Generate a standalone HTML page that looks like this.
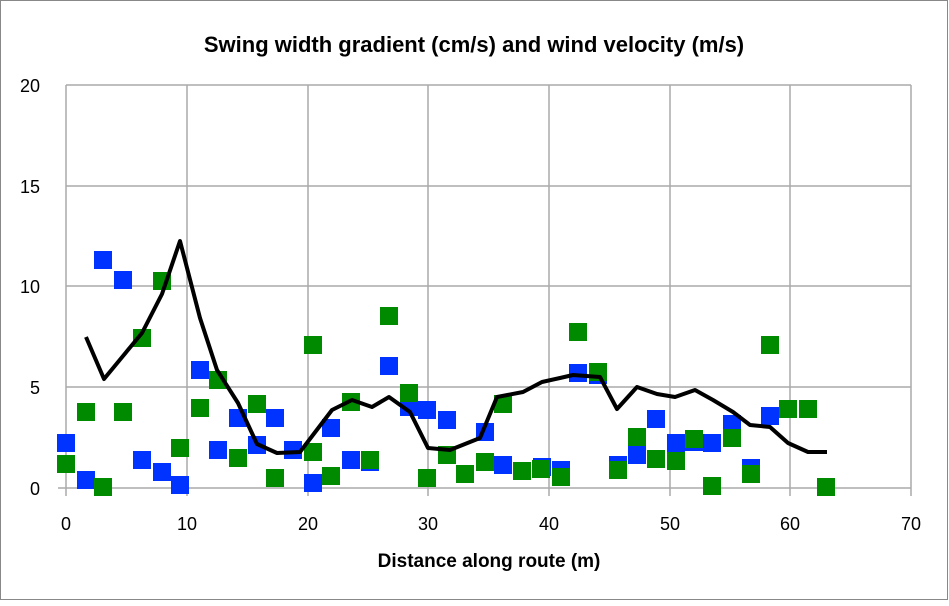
<!DOCTYPE html><html><head><style>body{margin:0;background:#fff}</style></head><body>
<svg width="949" height="601" xmlns="http://www.w3.org/2000/svg" font-family="Liberation Sans, sans-serif">
<rect x="0.5" y="0.5" width="947" height="599" fill="#fff" stroke="#888"/>
<text x="474" y="52" text-anchor="middle" font-size="22" font-weight="bold">Swing width gradient (cm/s) and wind velocity (m/s)</text>
<g stroke="#aaa" stroke-width="1.5">
<line x1="66" y1="85" x2="911" y2="85"/><line x1="66" y1="186" x2="911" y2="186"/><line x1="66" y1="286" x2="911" y2="286"/><line x1="66" y1="387" x2="911" y2="387"/><line x1="58" y1="488" x2="911" y2="488"/>
<line x1="66" y1="85" x2="66" y2="496"/><line x1="187" y1="85" x2="187" y2="496"/><line x1="308" y1="85" x2="308" y2="496"/><line x1="428" y1="85" x2="428" y2="496"/><line x1="549" y1="85" x2="549" y2="496"/><line x1="670" y1="85" x2="670" y2="496"/><line x1="790" y1="85" x2="790" y2="496"/><line x1="911" y1="85" x2="911" y2="496"/>
</g>
<g font-size="18" text-anchor="end"><text x="40" y="92">20</text><text x="40" y="193">15</text><text x="40" y="293">10</text><text x="40" y="394">5</text><text x="40" y="495">0</text></g>
<g font-size="18" text-anchor="middle"><text x="66" y="530">0</text><text x="187" y="530">10</text><text x="308" y="530">20</text><text x="428" y="530">30</text><text x="549" y="530">40</text><text x="670" y="530">50</text><text x="790" y="530">60</text><text x="911" y="530">70</text></g>
<text x="489" y="567" text-anchor="middle" font-size="19" font-weight="bold">Distance along route (m)</text>
<g fill="#0033ff">
<rect x="57" y="434" width="18" height="18"/><rect x="77" y="471" width="18" height="18"/><rect x="94" y="251" width="18" height="18"/><rect x="114" y="271" width="18" height="18"/><rect x="133" y="451" width="18" height="18"/><rect x="153" y="463" width="18" height="18"/><rect x="171" y="476" width="18" height="18"/><rect x="191" y="361" width="18" height="18"/><rect x="209" y="441" width="18" height="18"/><rect x="229" y="409" width="18" height="18"/><rect x="248" y="436" width="18" height="18"/><rect x="266" y="409" width="18" height="18"/><rect x="284" y="441" width="18" height="18"/><rect x="304" y="474" width="18" height="18"/><rect x="322" y="419" width="18" height="18"/><rect x="342" y="451" width="18" height="18"/><rect x="361" y="453" width="18" height="18"/><rect x="380" y="357" width="18" height="18"/><rect x="400" y="398" width="18" height="18"/><rect x="418" y="401" width="18" height="18"/><rect x="438" y="411" width="18" height="18"/><rect x="476" y="423" width="18" height="18"/><rect x="494" y="456" width="18" height="18"/><rect x="533" y="458" width="18" height="18"/><rect x="552" y="461" width="18" height="18"/><rect x="569" y="364" width="18" height="18"/><rect x="589" y="366" width="18" height="18"/><rect x="609" y="456" width="18" height="18"/><rect x="628" y="446" width="18" height="18"/><rect x="647" y="410" width="18" height="18"/><rect x="667" y="434" width="18" height="18"/><rect x="685" y="433" width="18" height="18"/><rect x="703" y="434" width="18" height="18"/><rect x="723" y="415" width="18" height="18"/><rect x="742" y="459" width="18" height="18"/><rect x="761" y="407" width="18" height="18"/>
</g>
<g fill="#008a00">
<rect x="57" y="455" width="18" height="18"/><rect x="77" y="403" width="18" height="18"/><rect x="94" y="478" width="18" height="18"/><rect x="114" y="403" width="18" height="18"/><rect x="133" y="329" width="18" height="18"/><rect x="153" y="272" width="18" height="18"/><rect x="171" y="439" width="18" height="18"/><rect x="191" y="399" width="18" height="18"/><rect x="209" y="371" width="18" height="18"/><rect x="229" y="449" width="18" height="18"/><rect x="248" y="395" width="18" height="18"/><rect x="266" y="469" width="18" height="18"/><rect x="304" y="336" width="18" height="18"/><rect x="304" y="443" width="18" height="18"/><rect x="322" y="467" width="18" height="18"/><rect x="342" y="393" width="18" height="18"/><rect x="361" y="451" width="18" height="18"/><rect x="380" y="307" width="18" height="18"/><rect x="400" y="384" width="18" height="18"/><rect x="418" y="469" width="18" height="18"/><rect x="438" y="446" width="18" height="18"/><rect x="456" y="465" width="18" height="18"/><rect x="476" y="453" width="18" height="18"/><rect x="494" y="395" width="18" height="18"/><rect x="513" y="462" width="18" height="18"/><rect x="532" y="460" width="18" height="18"/><rect x="552" y="468" width="18" height="18"/><rect x="569" y="323" width="18" height="18"/><rect x="589" y="363" width="18" height="18"/><rect x="609" y="461" width="18" height="18"/><rect x="628" y="428" width="18" height="18"/><rect x="647" y="450" width="18" height="18"/><rect x="667" y="452" width="18" height="18"/><rect x="685" y="430" width="18" height="18"/><rect x="703" y="477" width="18" height="18"/><rect x="723" y="429" width="18" height="18"/><rect x="742" y="465" width="18" height="18"/><rect x="761" y="336" width="18" height="18"/><rect x="779" y="400" width="18" height="18"/><rect x="799" y="400" width="18" height="18"/><rect x="817" y="478" width="18" height="18"/>
</g>
<polyline fill="none" stroke="#000" stroke-width="4" stroke-linejoin="round" points="86,337 104,379 123,356 142,333 162,294 180,241 200,318 217,370 238,403 257,444 277,453 300,452 332,410 352,400 372,407 389,397 410,412 428,448 450,450 480,438 497,397 523,392 542,382 560,378 573,375 600,377 617,409 637,387 657,394 675,397 695,390 713,400 733,412 750,425 770,427 788,443 808,452 827,452"/>
</svg></body></html>
